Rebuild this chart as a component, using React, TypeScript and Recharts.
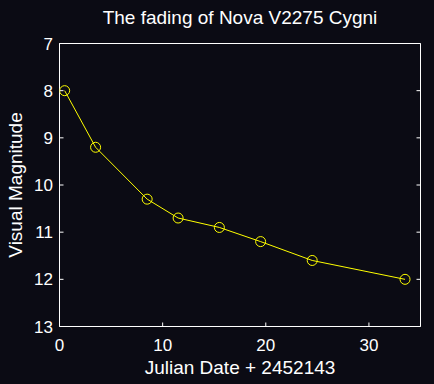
import React from 'react';
import { LineChart, Line, XAxis, YAxis } from 'recharts';

// Days since JD 2452143 and the visual magnitude
const days = [0.5, 3.5, 8.5, 11.5, 15.5, 19.5, 24.5, 33.5];
const magnitudes = [8.0, 9.2, 10.3, 10.7, 10.9, 11.2, 11.6, 12.0];

const xTicks = [0, 10, 20, 30];
const yTicks = [7, 8, 9, 10, 11, 12, 13];

const data = days.map((d, i) => ({ day: d, mag: magnitudes[i] }));

const FONT = '"Liberation Sans", Arial, Helvetica, sans-serif';
const BG = '#0b0b14';
const YELLOW = '#ffff00';

const blank = () => '';

export default function App() {
  return (
    <div
      style={{
        position: 'absolute',
        left: 0,
        top: 0,
        width: 434,
        height: 384,
        background: BG,
        fontFamily: FONT,
        overflow: 'hidden'
      }}
    >
      <div
        style={{
          position: 'absolute',
          left: 0,
          width: 480,
          top: 7,
          textAlign: 'center',
          color: '#fff',
          fontSize: 19,
          lineHeight: '22px'
        }}
      >
        The fading of Nova V2275 Cygni
      </div>
      <LineChart
        width={434}
        height={384}
        data={data}
        margin={{ top: 0, right: 0, bottom: 0, left: 0 }}
      >
        <XAxis
          xAxisId="bottom"
          dataKey="day"
          type="number"
          domain={[0, 35]}
          ticks={xTicks}
          allowDataOverflow
          height={57.5}
          stroke="#fff"
          tickSize={-4}
          tickMargin={16}
          tick={{ fill: '#fff', fontSize: 17, fontFamily: FONT }}
          label={{
            value: 'Julian Date + 2452143',
            position: 'insideBottom',
            offset: 10,
            fill: '#fff',
            fontSize: 19,
            fontFamily: FONT
          }}
        />
        <XAxis
          xAxisId="top"
          orientation="top"
          type="number"
          domain={[0, 35]}
          ticks={xTicks}
          allowDataOverflow
          height={43.5}
          stroke="#fff"
          tickSize={-4}
          tickFormatter={blank}
        />
        <YAxis
          yAxisId="left"
          type="number"
          domain={[7, 13]}
          ticks={yTicks}
          reversed
          allowDataOverflow
          width={59.5}
          stroke="#fff"
          tickSize={-4}
          tickMargin={10.5}
          tick={{ fill: '#fff', fontSize: 17, fontFamily: FONT }}
          label={{
            value: 'Visual Magnitude',
            angle: -90,
            position: 'insideLeft',
            offset: 15,
            style: { textAnchor: 'middle' },
            fill: '#fff',
            fontSize: 19,
            fontFamily: FONT
          }}
        />
        <YAxis
          yAxisId="right"
          orientation="right"
          type="number"
          domain={[7, 13]}
          ticks={yTicks}
          reversed
          allowDataOverflow
          width={13.5}
          stroke="#fff"
          tickSize={-4}
          tickFormatter={blank}
        />
        <Line
          xAxisId="bottom"
          yAxisId="left"
          type="linear"
          dataKey="mag"
          stroke={YELLOW}
          strokeWidth={1}
          dot={{ r: 5, stroke: YELLOW, strokeWidth: 1, fill: 'none' }}
          isAnimationActive={false}
        />
      </LineChart>
    </div>
  );
}
